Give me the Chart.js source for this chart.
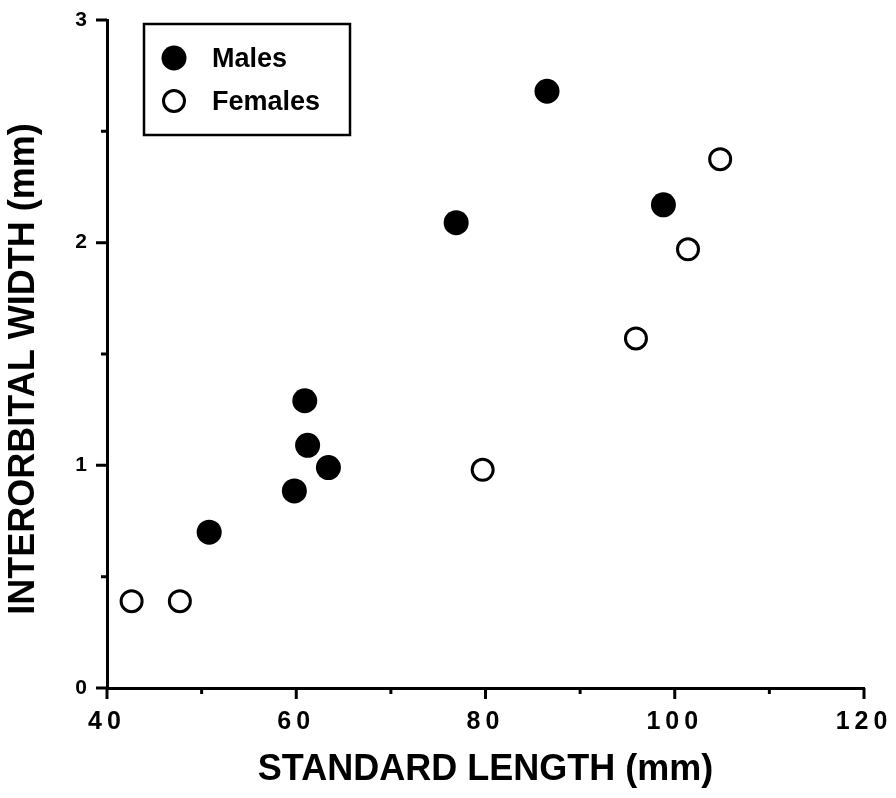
<!DOCTYPE html>
<html lang="en">
<head>
  <meta charset="UTF-8">
  <title>Interorbital width vs standard length</title>
  <script src="https://cdn.jsdelivr.net/npm/chart.js"></script>
  <style>
    html, body { margin: 0; padding: 0; background: #fff; }
    #wrap { width: 896px; height: 798px; }
  </style>
</head>
<body>
  <div id="wrap"><canvas id="scatter" width="896" height="798"></canvas></div>

  <script>
    // standard length (mm) / interorbital width (mm)
    const malesX = [86.5, 76.9, 98.8, 60.9, 61.2, 63.4, 59.8, 50.8];
    const malesY = [2.68, 2.09, 2.17, 1.29, 1.09, 0.99, 0.885, 0.70];
    const femalesX = [104.8, 101.4, 95.9, 79.7, 42.6, 47.7];
    const femalesY = [2.375, 1.97, 1.57, 0.98, 0.39, 0.39];

    const xTicks = [40, 60, 80, 100, 120];
    const xMinor = [50, 70, 90, 110];
    const yTicks = [0, 1, 2, 3];
    const yMinor = [0.5, 1.5, 2.5];

    const FONT = "'Liberation Sans', Arial, Helvetica, sans-serif";

    function toPoints(xs, ys) {
      return xs.map((x, i) => ({ x: x, y: ys[i] }));
    }

    // tick marks (major + minor) drawn off the chart's own scales
    const tickMarks = {
      id: 'tickMarks',
      afterDraw(chart) {
        const ctx = chart.ctx;
        const xs = chart.scales.x, ys = chart.scales.y;
        const area = chart.chartArea;
        ctx.save();
        ctx.letterSpacing = '0px';
        ctx.strokeStyle = '#000';
        ctx.lineWidth = 3;
        ctx.beginPath();
        xTicks.forEach(v => {
          const p = xs.getPixelForValue(v);
          ctx.moveTo(p, area.bottom); ctx.lineTo(p, area.bottom + 11);
        });
        xMinor.forEach(v => {
          const p = xs.getPixelForValue(v);
          ctx.moveTo(p, area.bottom); ctx.lineTo(p, area.bottom + 6);
        });
        yTicks.forEach(v => {
          const p = ys.getPixelForValue(v);
          ctx.moveTo(area.left, p); ctx.lineTo(area.left - 11, p);
        });
        yMinor.forEach(v => {
          const p = ys.getPixelForValue(v);
          ctx.moveTo(area.left, p); ctx.lineTo(area.left - 6, p);
        });
        ctx.stroke();
        ctx.restore();
      }
    };

    // spaced-out digits on the x axis only (its tick labels sit on layer z=1)
    const spacing = {
      id: 'spacing',
      afterDatasetsDraw(chart) { chart.ctx.letterSpacing = '5px'; },
      afterDraw(chart) { chart.ctx.letterSpacing = '0px'; }
    };

    // boxed legend inside the plot, top left
    const boxLegend = {
      id: 'boxLegend',
      afterDraw(chart) {
        const ctx = chart.ctx;
        ctx.save();
        ctx.letterSpacing = '0px';
        ctx.strokeStyle = '#000';
        ctx.lineWidth = 2.5;
        ctx.strokeRect(144, 24, 206, 111);
        const rows = [58, 101];
        chart.data.datasets.forEach((ds, i) => {
          const cy = rows[i];
          ctx.beginPath();
          ctx.arc(174, cy, ds.pointRadius, 0, Math.PI * 2);
          ctx.fillStyle = ds.backgroundColor;
          ctx.fill();
          if (ds.borderWidth) {
            ctx.lineWidth = ds.borderWidth;
            ctx.strokeStyle = ds.borderColor;
            ctx.stroke();
          }
          ctx.fillStyle = '#000';
          ctx.font = 'bold 27px ' + FONT;
          ctx.textBaseline = 'middle';
          ctx.textAlign = 'left';
          ctx.fillText(ds.label, 212, cy + 2);
        });
        ctx.restore();
      }
    };

    new Chart(document.getElementById('scatter'), {
      type: 'scatter',
      data: {
        datasets: [{
          label: 'Males',
          data: toPoints(malesX, malesY),
          pointRadius: 12.5,
          pointHoverRadius: 12.5,
          backgroundColor: '#000',
          borderColor: '#000',
          borderWidth: 0
        }, {
          label: 'Females',
          data: toPoints(femalesX, femalesY),
          pointRadius: 10.5,
          pointHoverRadius: 10.5,
          backgroundColor: '#fff',
          borderColor: '#000',
          borderWidth: 3
        }]
      },
      options: {
        responsive: false,
        animation: false,
        events: [],
        layout: { padding: { top: 20, right: 32, left: 0, bottom: 0 } },
        plugins: {
          legend: { display: false },
          tooltip: { enabled: false }
        },
        scales: {
          x: {
            type: 'linear',
            position: 'bottom',
            weight: 0,
            min: 40, max: 120,
            grid: { display: false, drawTicks: false },
            border: { display: true, color: '#000', width: 3 },
            ticks: {
              z: 1,
              stepSize: 20,
              padding: 19,
              color: '#000',
              maxRotation: 0,
              font: { family: FONT, size: 25, weight: 'bold' }
            },
            afterFit: s => { s.height = 56; s.paddingLeft = 0; s.paddingRight = 0; }
          },
          x2: {
            type: 'linear',
            position: 'bottom',
            weight: 1,
            min: 40, max: 120,
            grid: { display: false, drawTicks: false },
            border: { display: false },
            ticks: { display: false },
            title: {
              display: true,
              text: 'STANDARD LENGTH (mm)',
              color: '#000',
              padding: { top: 0, bottom: 6 },
              font: { family: FONT, size: 36, weight: 'bold' }
            },
            afterFit: s => { s.height = 54; s.paddingLeft = 0; s.paddingRight = 0; }
          },
          y: {
            type: 'linear',
            min: 0, max: 3,
            grid: { display: false, drawTicks: false },
            border: { display: true, color: '#000', width: 3 },
            ticks: {
              stepSize: 1,
              padding: 20,
              color: '#000',
              font: { family: FONT, size: 21, weight: 'bold' }
            },
            title: {
              display: true,
              // trailing spaces nudge the rotated title down like the original
              text: 'INTERORBITAL WIDTH (mm)   ',
              color: '#000',
              padding: { top: 2, bottom: 0 },
              font: { family: FONT, size: 36, weight: 'bold' }
            },
            afterFit: s => { s.width = 107; s.paddingTop = 0; s.paddingBottom = 0; }
          }
        }
      },
      plugins: [spacing, tickMarks, boxLegend]
    });
  </script>
</body>
</html>
